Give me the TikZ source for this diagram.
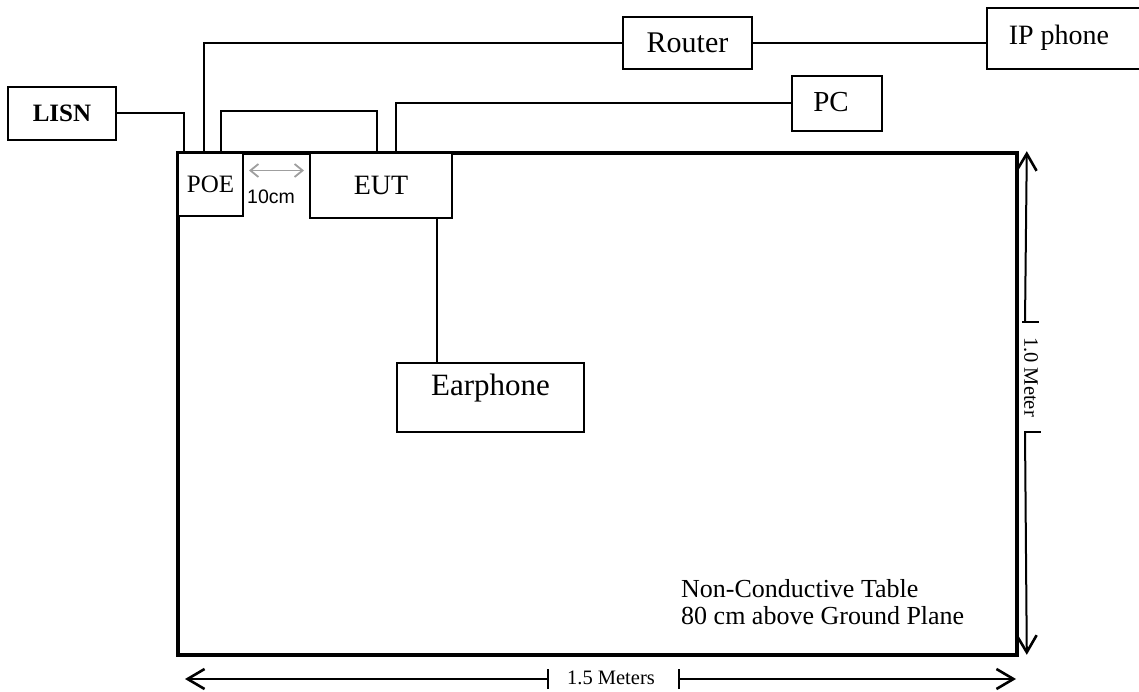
\documentclass[tikz,border=0pt]{standalone}
\usepackage{fontspec}
\setmainfont{Liberation Serif}
\setsansfont{Liberation Sans}
\usetikzlibrary{arrows.meta}

\begin{document}
\begin{tikzpicture}[x=1pt,y=1pt,
  box/.style={draw,line width=2pt,inner sep=0pt},
  wire/.style={line width=2pt},
  dimline/.style={line width=2pt,-{Straight Barb[length=17pt,width=20pt,line width=2.6pt]}},
  dimtick/.style={line width=2pt}]
\useasboundingbox (0,0) rectangle (1139,691);

\node[draw,line width=3.6pt,inner sep=0pt,minimum width=839,minimum height=502] (table) at (597.5,287) {};

\node[box,font=\fontsize{25}{30}\selectfont\bfseries,minimum width=108,minimum height=53] (lisn) at (62,577.5) {LISN};
\node[box,fill=white,font=\fontsize{25}{30}\selectfont,minimum width=65,minimum height=63] (poe) at (210.5,506.5) {POE};
\node[box,fill=white,font=\fontsize{28}{33}\selectfont,minimum width=142,minimum height=65] (eut) at (381,505.5) {EUT};
\node[box,font=\fontsize{30}{36}\selectfont,minimum width=129,minimum height=52] (router) at (687.5,648) {Router};
\node[box,anchor=west,font=\fontsize{28}{33}\selectfont,minimum width=180,minimum height=61,text depth=8pt] (ipphone) at (986,652.5) {\hspace*{-36pt}IP phone};
\node[box,font=\fontsize{29}{34}\selectfont,minimum width=90,minimum height=55,text depth=4pt] (pc) at (837,587.5) {\hspace*{-12pt}PC};
\node[box,font=\fontsize{31}{37}\selectfont,minimum width=187,minimum height=69,text depth=25pt] (earphone) at (490.5,293.5) {Earphone};

\draw[wire] (lisn.east) -| ([xshift=7pt]poe.north west);
\draw[wire] ([xshift=27pt]poe.north west) |- (router.west);
\draw[wire] (router.east) -- (router.east -| ipphone.west);
\draw[wire] ([xshift=44pt]poe.north west) -- ++(0,41) -| ([xshift=68pt]eut.north west);
\draw[wire] ([xshift=87pt]eut.north west) |- (pc.west);
\coordinate (eutjack) at ([xshift=128pt]eut.south west);
\draw[wire] (eutjack) -- (eutjack |- earphone.north);

% 10cm gap
\coordinate (gapl) at ([xshift=5pt,yshift=14pt]poe.east);
\coordinate (gapr) at ([xshift=-5pt,yshift=14pt]eut.west |- poe.east);
\draw[gray!75,line width=1.8pt,{Straight Barb[length=8pt,width=13pt]}-{Straight Barb[length=8pt,width=13pt]}] (gapl) -- (gapr);
\node[font=\sffamily\fontsize{19.5}{23}\selectfont] (gaplabel) at (271,494) {10cm};

% table size
\coordinate (vtop) at ([xshift=8pt]table.north east);
\coordinate (vbot) at ([xshift=8pt,yshift=2pt]table.south east);
\coordinate (vtick1) at (1025,369);
\coordinate (vtick2) at (1025,259);
\draw[dimline] (vtick1) -- (vtop);
\draw[dimline] (vtick2) -- (vbot);
\draw[dimtick] ([xshift=-3pt]vtick1) -- ++(17,0);
\draw[dimtick] ([xshift=-1pt]vtick2) -- ++(17,0);
\node[rotate=-90,font=\fontsize{20.5}{24}\selectfont] (vlabel) at (1031,314) {1.0 Meter};

\coordinate (hleft) at (185,12);
\coordinate (hright) at (1016,12);
\coordinate (htick1) at (548,12);
\coordinate (htick2) at (679,12);
\draw[dimline] (htick1) -- (hleft);
\draw[dimline] (htick2) -- (hright);
\draw[dimtick] ([yshift=-10pt]htick1) -- ++(0,20);
\draw[dimtick] ([yshift=-10pt]htick2) -- ++(0,20);
\node[font=\fontsize{20.5}{24}\selectfont] (hlabel) at (611,13) {1.5 Meters};

\node[anchor=north west,align=left,inner sep=0pt,font=\fontsize{26}{27}\selectfont] (tablenote) at (681,112) {Non-Conductive Table\\80 cm above Ground Plane};
\end{tikzpicture}
\end{document}
